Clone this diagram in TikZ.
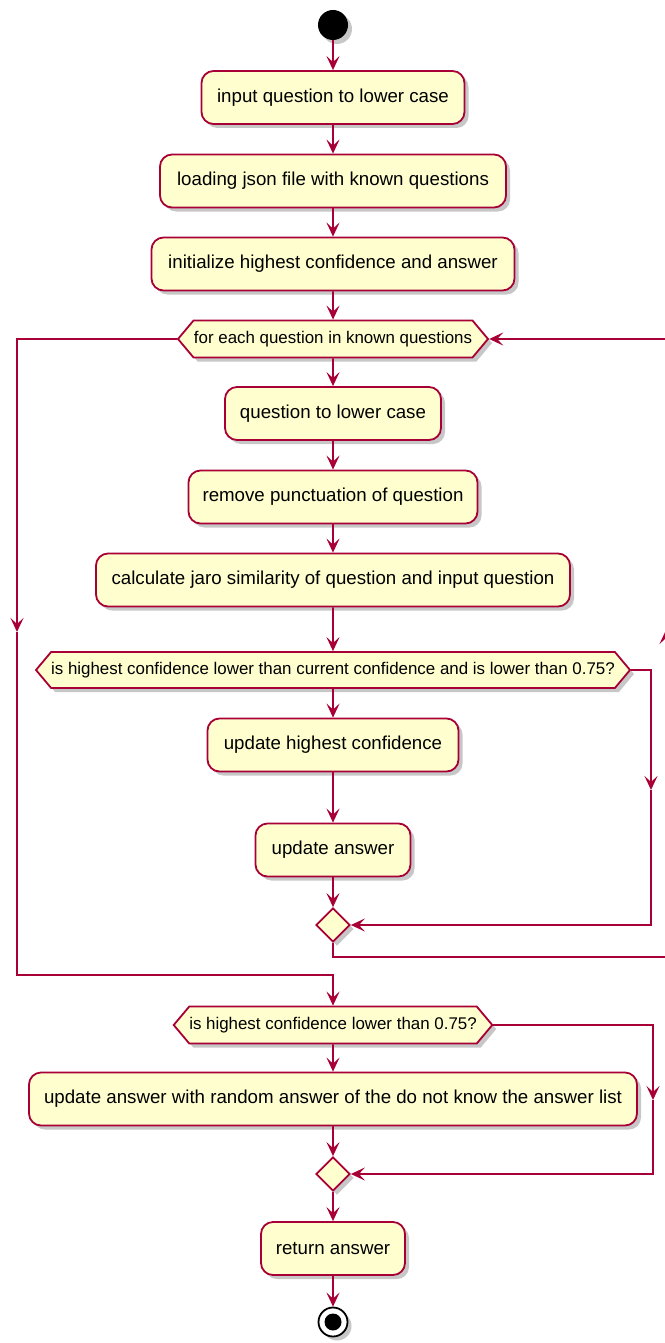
\documentclass[tikz,border=0pt]{standalone}
\usepackage{fontspec}
\setmainfont{Liberation Sans}
\usetikzlibrary{shapes.geometric,shapes.symbols,shadows,arrows.meta}
\definecolor{bord}{HTML}{A80036}
\definecolor{fillc}{HTML}{FEFECE}
\newcommand{\boxfont}{\fontsize{18.7}{22}\selectfont}
\newcommand{\hexfont}{\fontsize{16.9}{20}\selectfont}
\tikzset{
  shd/.style={drop shadow={shadow xshift=4pt,shadow yshift=-4pt,fill=black,opacity=0.22}},
  act/.style={draw=bord,fill=fillc,line width=1.8pt,rounded corners=12pt,minimum height=53pt,inner sep=0pt,font=\boxfont,shd},
  hexa/.style={signal,signal to=west and east,signal pointer angle=100,draw=bord,fill=fillc,line width=1.8pt,minimum height=37pt,inner sep=0pt,font=\hexfont,shd},
  merge/.style={diamond,draw=bord,fill=fillc,line width=1.8pt,minimum width=34pt,minimum height=34pt,inner sep=0pt,shd},
  flow/.style={draw=bord,line width=1.8pt,-{Stealth[length=14pt,width=13pt,inset=6pt]}},
}
\begin{document}
\begin{tikzpicture}[x=1pt,y=-1pt]
\useasboundingbox (0,0) rectangle (664,1343);
\node[circle,fill=black,minimum size=30pt,inner sep=0pt,shd] (start) at (333,25) {};
\node[act,minimum width=263pt] (b1) at (333,97.5) {input question to lower case};
\node[act,minimum width=346pt] (b2) at (333,181) {loading json file with known questions};
\node[act,minimum width=363pt] (b3) at (333,264) {initialize highest confidence and answer};
\node[hexa,minimum width=310pt] (fe) at (333,339) {for each question in known questions};
\node[act,minimum width=216pt] (b4) at (333,413.5) {question to lower case};
\node[act,minimum width=289pt] (b5) at (333,497) {remove punctuation of question};
\node[act,minimum width=474pt] (b6) at (333,580) {calculate jaro similarity of question and input question};
\node[hexa,minimum width=594pt,minimum height=36pt] (h2) at (333,670) {is highest confidence lower than current confidence and is lower than 0.75?};
\node[act,minimum width=251pt] (b7) at (333,745) {update highest confidence};
\node[act,minimum width=155pt] (b8) at (333,850) {update answer};
\node[merge] (d1) at (333,925) {};
\node[hexa,minimum width=315pt] (h3) at (333,1025) {is highest confidence lower than 0.75?};
\node[act,minimum width=608pt] (b9) at (333,1099) {update answer with random answer of the do not know the answer list};
\node[merge] (d2) at (333,1174) {};
\node[act,minimum width=144pt] (b10) at (333,1248.5) {return answer};
\node[circle,draw=black,line width=1.8pt,fill=white,minimum size=29pt,inner sep=0pt,shd] (stop) at (333,1322) {};
\node[circle,fill=black,minimum size=17pt,inner sep=0pt] (stopin) at (333,1322) {};
% coordinates
\coordinate (lt) at (17,339);
\coordinate (lm) at (17,632);
\coordinate (lb) at (17,975);
\coordinate (cb) at (333,975);
\coordinate (r2a) at (651,670);
\coordinate (r2m) at (651,790);
\coordinate (r2b) at (651,925);
\coordinate (lp1) at (333,957);
\coordinate (lp2) at (666,957);
\coordinate (lpm) at (666,630);
\coordinate (lp3) at (666,339);
\coordinate (r3a) at (653,1025);
\coordinate (r3m) at (653,1100);
\coordinate (r3b) at (653,1174);
% connectors
\draw[flow] (start) -- (b1);
\draw[flow] (b1) -- (b2);
\draw[flow] (b2) -- (b3);
\draw[flow] (b3) -- (fe);
\draw[flow] (fe) -- (b4);
\draw[flow] (b4) -- (b5);
\draw[flow] (b5) -- (b6);
\draw[flow] (b6) -- (h2);
\draw[flow] (h2) -- (b7);
\draw[flow] (b7) -- (b8);
\draw[flow] (b8) -- (d1);
\draw[flow] (h2.east) -- (r2a) -- (r2m);
\draw[flow] (r2m) -- (r2b) -- (d1.east);
\draw[flow] (d1.south) -- (lp1) -- (lp2) -- (lpm);
\draw[flow] (lpm) -- (lp3) -- (fe.east);
\draw[flow] (fe.west) -- (lt) -- (lm);
\draw[flow] (lm) -- (lb) -- (cb) -- (h3.north);
\draw[flow] (h3) -- (b9);
\draw[flow] (b9) -- (d2);
\draw[flow] (h3.east) -- (r3a) -- (r3m);
\draw[flow] (r3m) -- (r3b) -- (d2.east);
\draw[flow] (d2) -- (b10);
\draw[flow] (b10) -- (stop);
\end{tikzpicture}
\end{document}
